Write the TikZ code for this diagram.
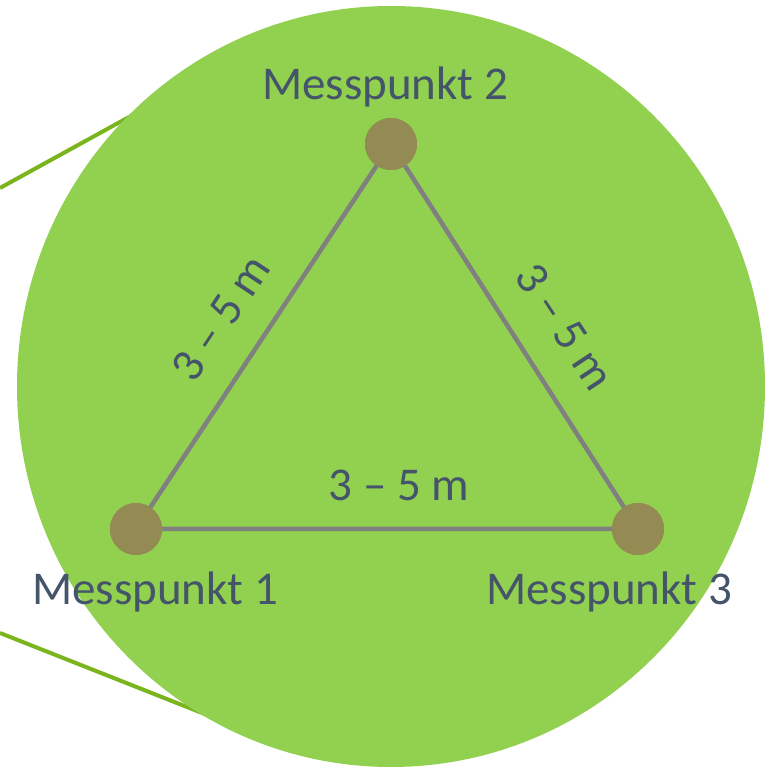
\documentclass[tikz,border=0pt]{standalone}
\usepackage{fontspec}
\setmainfont{Carlito}
\definecolor{bgreen}{HTML}{92D050}
\definecolor{lgreen}{HTML}{7AB51D}
\definecolor{dotc}{HTML}{948A54}
\definecolor{txt}{HTML}{44546A}
\definecolor{edge}{HTML}{808080}
\begin{document}
\begin{tikzpicture}[x=1pt,y=1pt,
  pt/.style={circle,fill=dotc,minimum size=52pt,inner sep=0pt},
  lbl/.style={text=txt,font=\fontsize{47}{50}\selectfont,inner sep=0pt},
  side/.style={draw=edge,line width=4.5pt},
  zoomline/.style={draw=lgreen,line width=4pt}]
\useasboundingbox (0,0) rectangle (769,768);
\coordinate (a1) at (0,580);
\coordinate (a2) at (140,657);
\coordinate (b1) at (0,135);
\coordinate (b2) at (235,42);
\draw[zoomline] (a1) -- (a2);
\draw[zoomline] (b1) -- (b2);
\fill[bgreen] (391,381.5) ellipse [x radius=374, y radius=380.5];
\node[pt] (p2) at (391,624) {};
\node[pt] (p1) at (136,239) {};
\node[pt] (p3) at (638,239) {};
\draw[side] (p1.center) -- (p2.center) -- (p3.center) -- cycle;
\node[pt] at (p1) {};
\node[pt] at (p2) {};
\node[pt] at (p3) {};
\node[lbl,anchor=base] (l2) at (385,668) {Messpunkt 2};
\node[lbl,anchor=base] (l1) at (155,163) {Messpunkt 1};
\node[lbl,anchor=base] (l3) at (609,163) {Messpunkt 3};
\node[lbl,anchor=base] (d13) at (399,267) {3 – 5 m};
\node[lbl,rotate=56.5] (d12) at (221,450) {3 – 5 m};
\node[lbl,rotate=-56.5] (d23) at (565,441) {3 – 5 m};
\end{tikzpicture}
\end{document}
